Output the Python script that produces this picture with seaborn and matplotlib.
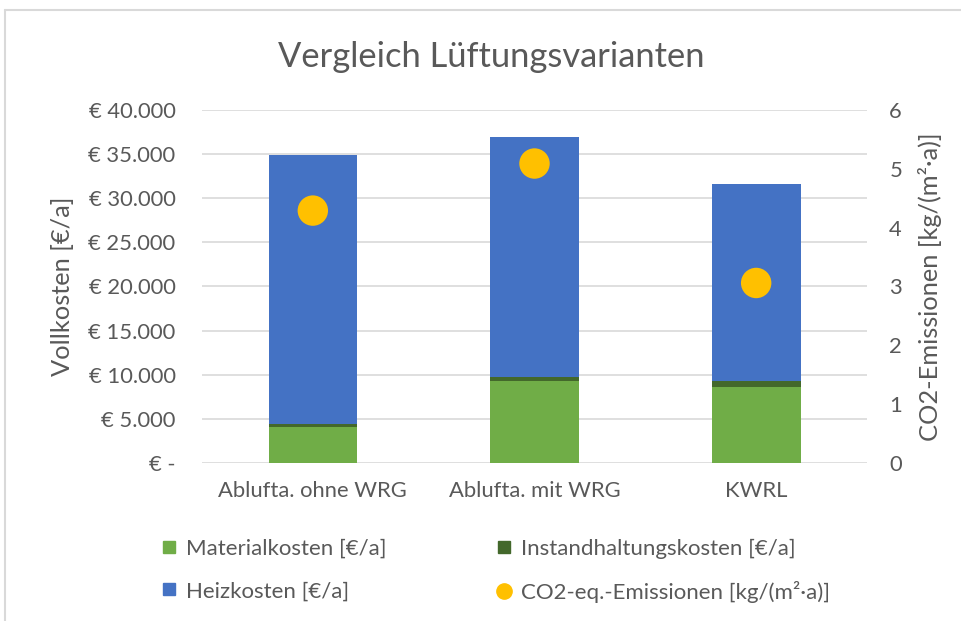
import matplotlib
matplotlib.use("Agg")
import matplotlib.pyplot as plt
from matplotlib.lines import Line2D
import seaborn as sns
import pandas as pd

# data
varianten = ["Ablufta. ohne WRG", "Ablufta. mit WRG", "KWRL"]
materialkosten = [4100, 9300, 8650]
instandhaltung = [300, 500, 600]
heizkosten = [30500, 27100, 22350]
co2 = [4.29, 5.09, 3.06]

yticks_left = [0, 5000, 10000, 15000, 20000, 25000, 30000, 35000, 40000]
yticks_right = [0, 1, 2, 3, 4, 5, 6]

GREY = "#595959"
GREEN = "#70AD47"
DKGREEN = "#43682B"
BLUE = "#4472C4"
GOLD = "#FFC000"


def fmt_eur(v):
    if v == 0:
        return "€ -"
    return "€ " + f"{v:,.0f}".replace(",", ".")


def main():
    sns.set_style("white")
    plt.rcParams["font.family"] = ["Lato", "DejaVu Sans"]

    df = pd.DataFrame({"var": varianten, "mat": materialkosten,
                       "inst": instandhaltung, "heiz": heizkosten})
    df["lvl2"] = df["mat"] + df["inst"]
    df["lvl3"] = df["lvl2"] + df["heiz"]

    fig = plt.figure(figsize=(9.61, 6.21), dpi=100)
    ax = fig.add_axes([202 / 961, 0.2544, 665 / 961, 0.5685])

    # stacked bars drawn tallest first
    for col, c in [("lvl3", BLUE), ("lvl2", DKGREEN), ("mat", GREEN)]:
        sns.barplot(data=df, x="var", y=col, color=c, width=0.4, saturation=1,
                    linewidth=0, ax=ax, zorder=3)

    ax.set_ylim(0, 40000)
    ax.set_xlim(-0.5, 2.5)
    ax.set_yticks(yticks_left)
    ax.set_yticklabels([fmt_eur(v) for v in yticks_left])
    ax.yaxis.grid(True, color="#D9D9D9", linewidth=1.2, zorder=0)
    ax.set_axisbelow(True)
    ax.set_xlabel("")
    ax.set_ylabel("Vollkosten [€/a]", fontsize=18.3, color=GREY)
    ax.yaxis.set_label_coords(-0.1925, 0.5)
    ax.tick_params(axis="y", length=0, labelsize=15.8, labelcolor=GREY, pad=19)
    ax.tick_params(axis="x", length=0, labelsize=15.8, labelcolor=GREY, pad=13)
    for s in ax.spines.values():
        s.set_visible(False)

    ax2 = ax.twinx()
    sns.scatterplot(x=[0, 1, 2], y=co2, ax=ax2, s=480, color=GOLD, edgecolor="none", zorder=5)
    ax2.set_ylim(0, 6)
    ax2.set_yticks(yticks_right)
    ax2.set_ylabel("CO2-Emissionen [kg/(m²·a)]", fontsize=18.3, color=GREY)
    ax2.yaxis.set_label_coords(1.0767, 0.5)
    ax2.tick_params(axis="y", length=0, labelsize=15.8, labelcolor=GREY, pad=16)
    for s in ax2.spines.values():
        s.set_visible(False)

    fig.text(491 / 961, 1 - 57 / 621, "Vergleich Lüftungsvarianten", fontsize=24.8,
             color=GREY, ha="center", va="center")

    handles = [
        Line2D([], [], marker="s", ls="", color=GREEN, markersize=8),
        Line2D([], [], marker="s", ls="", color=BLUE, markersize=8),
        Line2D([], [], marker="s", ls="", color=DKGREEN, markersize=8),
        Line2D([], [], marker="o", ls="", color=GOLD, markersize=11),
    ]
    labels = ["Materialkosten [€/a]", "Heizkosten [€/a]",
              "Instandhaltungskosten [€/a]", "CO2-eq.-Emissionen [kg/(m²·a)]"]
    fig.legend(handles, labels, ncol=2, loc="center", bbox_to_anchor=(0.516, 0.0805),
               frameon=False, fontsize=16, labelcolor=GREY, handletextpad=0.45,
               columnspacing=5.0, labelspacing=1.0, handlelength=0.6)

    # chart frame (top and left edge visible in the reference)
    fig.add_artist(Line2D([5 / 961, 1], [1 - 10 / 621, 1 - 10 / 621], color="#D9D9D9", lw=1.5))
    fig.add_artist(Line2D([5 / 961, 5 / 961], [0, 1 - 10 / 621], color="#D9D9D9", lw=1.5))

    fig.savefig("out.png", dpi=100)


if __name__ == "__main__":
    main()
